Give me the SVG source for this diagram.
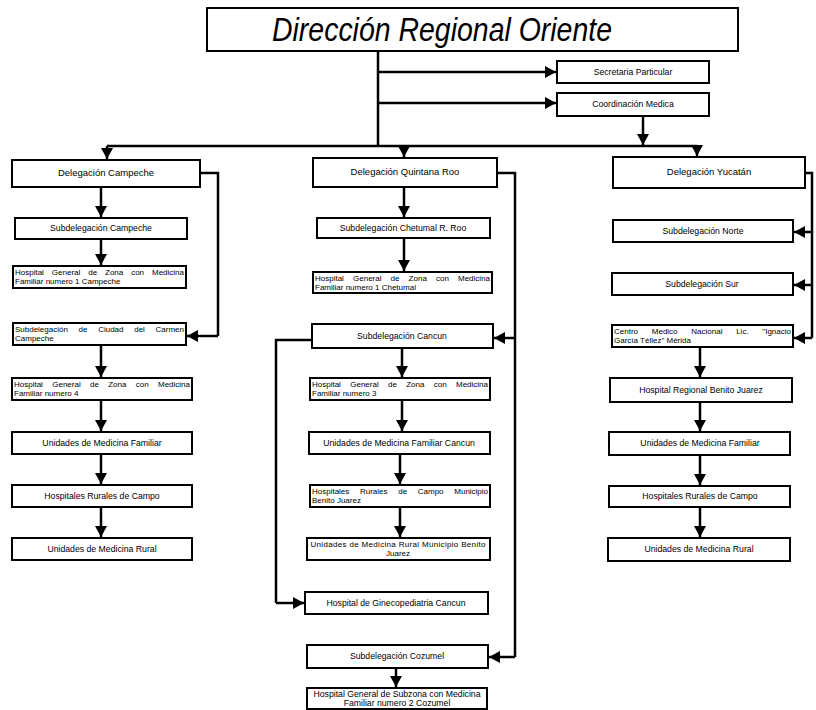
<svg xmlns="http://www.w3.org/2000/svg" width="816" height="710" viewBox="0 0 816 710">
<defs>
<marker id="ah" markerUnits="userSpaceOnUse" markerWidth="12" markerHeight="12" refX="11" refY="6" orient="auto">
<path d="M0,0 L11,6 L0,12 Z" fill="#000"/>
</marker>
<style>
.b{fill:#fff;stroke:#000;stroke-width:2}
.t{font-family:"Liberation Sans",Arial,sans-serif;font-size:8.7px;fill:#000}
.s{font-size:8px}
.d{font-size:9.5px}
.c{text-anchor:middle}
.l{fill:none;stroke:#000;stroke-width:2.5}
.a{fill:none;stroke:#000;stroke-width:2.5;marker-end:url(#ah)}
</style>
</defs>
<rect width="816" height="710" fill="#fff"/>

<g id="connectors">
<path class="l" d="M378,51 V146"/>
<path class="a" d="M378,72 H556"/>
<path class="a" d="M378,103 H556"/>
<path class="l" d="M107,146 H697"/>
<path class="a" d="M643,116 V145"/>
<path class="a" d="M107,146 V159"/>
<path class="a" d="M404,146 V157"/>
<path class="a" d="M697,146 V156"/>
<path class="a" d="M101,187 V217"/>
<path class="a" d="M101,239 V265"/>
<path class="l" d="M200,173 H218 V336"/>
<path class="a" d="M218,336 H187"/>
<path class="a" d="M101,345 V377"/>
<path class="a" d="M101,400 V431"/>
<path class="a" d="M101,454 V484"/>
<path class="a" d="M101,507 V537"/>
<path class="a" d="M404,187 V217"/>
<path class="a" d="M404,238 V271"/>
<path class="l" d="M497,173 H515 V657"/>
<path class="a" d="M515,338 H494"/>
<path class="a" d="M515,657 H489"/>
<path class="l" d="M312,340 H276 V603"/>
<path class="a" d="M276,603 H304"/>
<path class="a" d="M402,348 V377"/>
<path class="a" d="M402,400 V431"/>
<path class="a" d="M400,454 V484"/>
<path class="a" d="M400,507 V537"/>
<path class="a" d="M396,668 V687"/>
<path class="l" d="M805,173 H812 V338"/>
<path class="a" d="M812,232 H794"/>
<path class="a" d="M812,285 H794"/>
<path class="a" d="M812,338 H794"/>
<path class="a" d="M700,347 V377"/>
<path class="a" d="M700,402 V431"/>
<path class="a" d="M700,455 V485"/>
<path class="a" d="M700,507 V537"/>
</g>

<g id="direccion">
<rect class="b" x="207" y="8" width="531" height="43"/>
<text x="272" y="41" font-family="Liberation Sans,Arial,sans-serif" font-style="italic" font-size="33" textLength="340" lengthAdjust="spacingAndGlyphs">Dirección Regional Oriente</text>
</g>
<g id="secretaria"><rect class="b" x="557" y="61" width="152" height="22"/><text class="t c" x="633" y="75">Secretaria Particular</text></g>
<g id="coordinacion"><rect class="b" x="557" y="93" width="152" height="23"/><text class="t c" x="633" y="107">Coordinación Medica</text></g>

<g id="del-campeche"><rect class="b" x="12" y="160" width="188" height="27"/><text class="t d c" x="106" y="176">Delegación Campeche</text></g>
<g id="sub-campeche"><rect class="b" x="15" y="218" width="172" height="21"/><text class="t c" x="101" y="231">Subdelegación Campeche</text></g>
<g id="hgz1-campeche"><rect class="b" x="13" y="266" width="173" height="22"/><text class="t s" x="15" y="275" word-spacing="5.7" textLength="169" lengthAdjust="spacing">Hospital General de Zona con Medicina</text><text class="t s" x="15" y="284">Familiar numero 1 Campeche</text></g>
<g id="sub-carmen"><rect class="b" x="13" y="323" width="173" height="22"/><text class="t s" x="15" y="332" word-spacing="8.5" textLength="169" lengthAdjust="spacing">Subdelegación de Ciudad del Carmen</text><text class="t s" x="15" y="341">Campeche</text></g>
<g id="hgz4"><rect class="b" x="12" y="378" width="180" height="22"/><text class="t s" x="14" y="387" word-spacing="7.1" textLength="176" lengthAdjust="spacing">Hospital General de Zona con Medicina</text><text class="t s" x="14" y="396">Familiar numero 4</text></g>
<g id="umf-campeche"><rect class="b" x="12" y="432" width="180" height="22"/><text class="t c" x="102" y="446">Unidades de Medicina Familiar</text></g>
<g id="hrc-campeche"><rect class="b" x="12" y="485" width="180" height="22"/><text class="t c" x="102" y="499">Hospitales Rurales de Campo</text></g>
<g id="umr-campeche"><rect class="b" x="12" y="538" width="180" height="22"/><text class="t c" x="102" y="552">Unidades de Medicina Rural</text></g>

<g id="del-qroo"><rect class="b" x="313" y="158" width="184" height="29"/><text class="t d c" x="405" y="175">Delegación Quintana Roo</text></g>
<g id="sub-chetumal"><rect class="b" x="317" y="218" width="173" height="20"/><text class="t c" x="403" y="231">Subdelegación Chetumal R. Roo</text></g>
<g id="hgz1-chetumal"><rect class="b" x="313" y="272" width="179" height="21"/><text class="t s" x="315" y="281" word-spacing="6.9" textLength="175" lengthAdjust="spacing">Hospital General de Zona con Medicina</text><text class="t s" x="315" y="290">Familiar numero 1 Chetumal</text></g>
<g id="sub-cancun"><rect class="b" x="312" y="324" width="181" height="24"/><text class="t c" x="402" y="339">Subdelegación Cancun</text></g>
<g id="hgz3"><rect class="b" x="310" y="378" width="180" height="22"/><text class="t s" x="312" y="387" word-spacing="7.1" textLength="176" lengthAdjust="spacing">Hospital General de Zona con Medicina</text><text class="t s" x="312" y="396">Familiar numero 3</text></g>
<g id="umf-cancun"><rect class="b" x="309" y="432" width="181" height="22"/><text class="t c" x="399" y="446">Unidades de Medicina Familiar Cancun</text></g>
<g id="hrc-bj"><rect class="b" x="310" y="485" width="180" height="22"/><text class="t s" x="312" y="494" word-spacing="8.5" textLength="176" lengthAdjust="spacing">Hospitales Rurales de Campo Municipio</text><text class="t s" x="312" y="503">Benito Juarez</text></g>
<g id="umr-bj"><rect class="b" x="307" y="538" width="183" height="22"/><text class="t s c" x="398" y="547" textLength="175" lengthAdjust="spacing">Unidades de Medicina Rural Municipio Benito</text><text class="t s c" x="398" y="556">Juarez</text></g>
<g id="gineco"><rect class="b" x="305" y="592" width="183" height="22"/><text class="t c" x="396" y="606">Hospital de Ginecopediatria Cancun</text></g>
<g id="sub-cozumel"><rect class="b" x="307" y="645" width="181" height="23"/><text class="t c" x="397" y="659">Subdelegación Cozumel</text></g>
<g id="hgsz2"><rect class="b" x="307" y="688" width="180" height="21"/><text class="t c" x="397" y="697">Hospital General de Subzona con Medicina</text><text class="t c" x="397" y="706">Familiar numero 2 Cozumel</text></g>

<g id="del-yucatan"><rect class="b" x="613" y="157" width="192" height="31"/><text class="t d c" x="709" y="175">Delegación Yucatán</text></g>
<g id="sub-norte"><rect class="b" x="613" y="220" width="180" height="22"/><text class="t c" x="703" y="234">Subdelegación Norte</text></g>
<g id="sub-sur"><rect class="b" x="612" y="273" width="181" height="22"/><text class="t c" x="702" y="287">Subdelegación Sur</text></g>
<g id="cmn"><rect class="b" x="612" y="325" width="181" height="22"/><text class="t s" x="614" y="334" word-spacing="11.5" textLength="177" lengthAdjust="spacing">Centro Medico Nacional Lic. "Ignacio</text><text class="t s" x="614" y="343">García Téllez" Mérida</text></g>
<g id="hr-bj"><rect class="b" x="610" y="378" width="182" height="24"/><text class="t c" x="701" y="393">Hospital Regional Benito Juarez</text></g>
<g id="umf-yucatan"><rect class="b" x="609" y="432" width="181" height="23"/><text class="t c" x="700" y="446">Unidades de Medicina Familiar</text></g>
<g id="hrc-yucatan"><rect class="b" x="609" y="486" width="181" height="21"/><text class="t c" x="700" y="499">Hospitales Rurales de Campo</text></g>
<g id="umr-yucatan"><rect class="b" x="608" y="538" width="182" height="23"/><text class="t c" x="699" y="552">Unidades de Medicina Rural</text></g>
</svg>
